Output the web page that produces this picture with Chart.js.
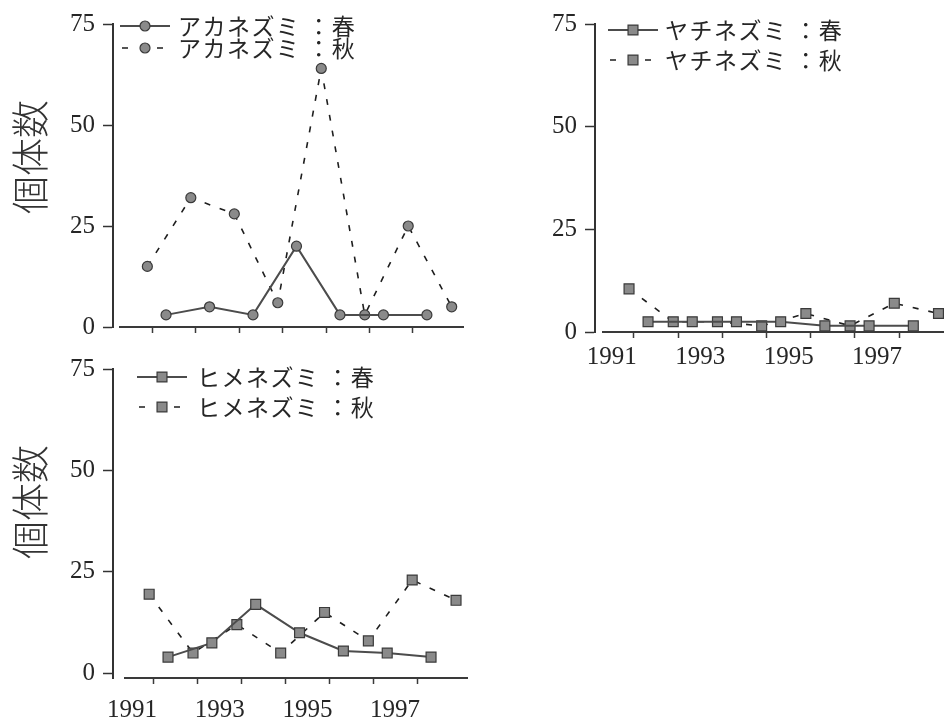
<!DOCTYPE html>
<html lang="ja">
<head>
<meta charset="utf-8">
<script src="https://cdn.jsdelivr.net/npm/chart.js@4.4.1/dist/chart.umd.min.js"></script>
<style>
html, body { margin: 0; padding: 0; width: 944px; height: 722px; overflow: hidden; background: #fff; }
canvas { position: absolute; }
#aka { left: 0; top: 0; }
#yachi { left: 480px; top: 0; }
#hime { left: 0; top: 340px; }
</style>
</head>
<body>
<canvas id="aka" width="480" height="350"></canvas>
<canvas id="yachi" width="480" height="380"></canvas>
<canvas id="hime" width="480" height="382"></canvas>
<script>
// survey years: autumn from 1991, spring from 1992
const springYears = [1992, 1993, 1994, 1995, 1996, 1997, 1998];
const autumnYears = [1991, 1992, 1993, 1994, 1995, 1996, 1997, 1998];

const akaSpring = [3, 5, 3, 20, 3, 3, 3];
const akaAutumn = [15, 32, 28, 6, 64, 3, 25, 5];
const yachiSpring = [2.5, 2.5, 2.5, 2.5, 1.5, 1.5, 1.5];
const yachiAutumn = [10.5, 2.5, 2.5, 1.5, 4.5, 1.5, 7, 4.5];
const himeSpring = [4, 7.5, 17, 10, 5.5, 5, 4];
const himeAutumn = [19.5, 5, 12, 5, 15, 8, 23, 18];

const yTicks = [0, 25, 50, 75];
const xTickYears = [1992, 1993, 1994, 1995, 1996, 1997, 1998];
const xLabelYears = [1991, 1993, 1995, 1997];

// time of year of each survey
const SPRING = 0.32, AUTUMN = 0.89;

const INK = '#262626';
const MARK_FILL = '#8a8a8a';
const JP = '"Noto Sans CJK JP", "Noto Sans", sans-serif';

function points(years, values, offset) {
    return years.map((yr, i) => ({ x: yr + offset, y: values[i] }));
}

function series(label, years, values, offset, shape, dashed) {
    return {
        label: label,
        data: points(years, values, offset),
        borderColor: dashed ? '#1e1e1e' : '#4c4c4c',
        borderWidth: dashed ? 1.6 : 2,
        borderDash: dashed ? [6, 10] : [],
        pointStyle: shape,
        pointRadius: shape === 'rect' ? 7 : 5,
        pointBackgroundColor: MARK_FILL,
        pointBorderColor: '#3a3a3a',
        pointBorderWidth: 1.2,
        tension: 0,
        clip: false
    };
}

// legend, rotated y title and the gap between the axes
function decor(cfg) {
    return {
        id: 'decor',
        afterLayout(chart) {
            chart.scales.x.left = chart.chartArea.left + cfg.gap;
        },
        afterDraw(chart) {
            const ctx = chart.ctx;
            const lg = cfg.legend;
            chart.data.datasets.forEach((ds, i) => {
                const y = lg.y + i * lg.rowGap;
                const x0 = lg.x;
                ctx.save();
                ctx.strokeStyle = ds.borderColor;
                ctx.lineWidth = ds.borderWidth;
                ctx.beginPath();
                if (ds.borderDash.length) {
                    ctx.setLineDash([6, 29]);
                    ctx.moveTo(x0 + 2, y);
                    ctx.lineTo(x0 + 43, y);
                } else {
                    ctx.moveTo(x0, y);
                    ctx.lineTo(x0 + 50, y);
                }
                ctx.stroke();
                ctx.setLineDash([]);
                ctx.fillStyle = ds.pointBackgroundColor;
                ctx.strokeStyle = ds.pointBorderColor;
                ctx.lineWidth = ds.pointBorderWidth;
                ctx.beginPath();
                const mx = x0 + 25;
                if (ds.pointStyle === 'rect') {
                    const h = ds.pointRadius * Math.SQRT1_2;
                    ctx.rect(mx - h, y - h, 2 * h, 2 * h);
                } else {
                    ctx.arc(mx, y, ds.pointRadius, 0, Math.PI * 2);
                }
                ctx.fill();
                ctx.stroke();
                ctx.fillStyle = INK;
                ctx.font = '23px ' + JP;
                ctx.letterSpacing = '1.5px';
                ctx.textAlign = 'left';
                ctx.textBaseline = 'middle';
                ctx.fillText(ds.label, lg.textX, y);
                ctx.restore();
            });
            if (cfg.title) {
                ctx.save();
                ctx.translate(cfg.title.x, cfg.title.y);
                ctx.rotate(-Math.PI / 2);
                ctx.fillStyle = '#333';
                ctx.font = '300 38px ' + JP;
                ctx.textAlign = 'center';
                ctx.textBaseline = 'middle';
                ctx.fillText('個体数', 0, 0);
                ctx.restore();
            }
        }
    };
}

function scales(o) {
    const serif = { family: '"Liberation Serif", "Times New Roman", serif', size: 25 };
    return {
        x: {
            type: 'linear',
            min: o.xMin,
            max: o.xMax,
            afterBuildTicks: s => {
                const vals = xTickYears.concat(o.labels ? xLabelYears.map(v => v + 0.5) : []);
                s.ticks = vals.sort((a, b) => a - b).map(v => ({ value: v }));
            },
            afterFit: s => { s.height = o.xHeight; },
            grid: {
                drawOnChartArea: false,
                tickLength: 6,
                tickWidth: 1.5,
                tickColor: c => (c.tick && Number.isInteger(c.tick.value)) ? '#3a3a3a' : 'rgba(0,0,0,0)'
            },
            border: { color: '#3a3a3a', width: 2 },
            ticks: {
                autoSkip: false,
                maxRotation: 0,
                padding: o.labelPad,
                color: INK,
                font: serif,
                callback: v => Number.isInteger(v) ? '' : String(v - 0.5)
            }
        },
        y: {
            min: o.yMin,
            max: 75,
            afterBuildTicks: s => { s.ticks = yTicks.map(v => ({ value: v })); },
            afterFit: s => { s.width = o.yWidth; },
            grid: { drawOnChartArea: false, tickLength: 10, tickWidth: 1.5, tickColor: '#333' },
            border: { color: '#333', width: 2 },
            ticks: { padding: 8, color: INK, font: serif }
        }
    };
}

function panel(id, sets, o, cfg) {
    return new Chart(document.getElementById(id), {
        type: 'line',
        data: { datasets: sets },
        options: {
            responsive: false,
            animation: false,
            devicePixelRatio: 1,
            events: [],
            layout: { padding: o.pad },
            scales: scales(o),
            plugins: { legend: { display: false }, tooltip: { enabled: false } }
        },
        plugins: [decor(cfg)]
    });
}

panel('aka', [
    series('アカネズミ ：春', springYears, akaSpring, SPRING, 'circle', false),
    series('アカネズミ ：秋', autumnYears, akaAutumn, AUTUMN, 'circle', true)
], {
    xMin: 1991.10, xMax: 1999.15, yMin: 0, yWidth: 113, xHeight: 12, labels: false, labelPad: 0,
    pad: { left: 0, top: 24, right: 17, bottom: 6 }
}, {
    gap: 7,
    legend: { x: 120, y: 26, rowGap: 22, textX: 178 },
    title: { x: 30, y: 157 }
});

panel('yachi', [
    series('ヤチネズミ ：春', springYears, yachiSpring, SPRING, 'rect', false),
    series('ヤチネズミ ：秋', autumnYears, yachiAutumn, AUTUMN, 'rect', true)
], {
    xMin: 1991.12, xMax: 1999.15, yMin: 0, yWidth: 115, xHeight: 45, labels: true, labelPad: 4,
    pad: { left: 0, top: 24, right: 10, bottom: 3 }
}, {
    gap: 8,
    legend: { x: 128, y: 30, rowGap: 30, textX: 185 },
    title: null
});

panel('hime', [
    series('ヒメネズミ ：春', springYears, himeSpring, SPRING, 'rect', false),
    series('ヒメネズミ ：秋', autumnYears, himeAutumn, AUTUMN, 'rect', true)
], {
    xMin: 1991.065, xMax: 1999.14, yMin: -1.15, yWidth: 113, xHeight: 44, labels: true, labelPad: 11,
    pad: { left: 0, top: 29, right: 13, bottom: 0 }
}, {
    gap: 12,
    legend: { x: 137, y: 37, rowGap: 30, textX: 197 },
    title: { x: 30, y: 162 }
});
</script>
</body>
</html>
